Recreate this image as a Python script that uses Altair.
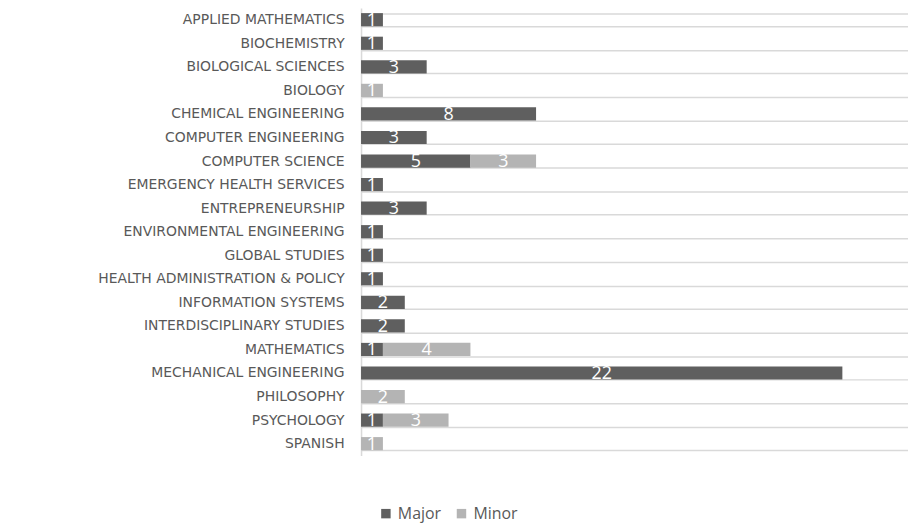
import altair as alt
import pandas as pd

categories = ["APPLIED MATHEMATICS", "BIOCHEMISTRY", "BIOLOGICAL SCIENCES", "BIOLOGY",
              "CHEMICAL ENGINEERING", "COMPUTER ENGINEERING", "COMPUTER SCIENCE",
              "EMERGENCY HEALTH SERVICES", "ENTREPRENEURSHIP", "ENVIRONMENTAL ENGINEERING",
              "GLOBAL STUDIES", "HEALTH ADMINISTRATION & POLICY", "INFORMATION SYSTEMS",
              "INTERDISCIPLINARY STUDIES", "MATHEMATICS", "MECHANICAL ENGINEERING",
              "PHILOSOPHY", "PSYCHOLOGY", "SPANISH"]
major = [1, 1, 3, 0, 8, 3, 5, 1, 3, 1, 1, 1, 2, 2, 1, 22, 0, 1, 0]
minor = [0, 0, 0, 1, 0, 0, 3, 0, 0, 0, 0, 0, 0, 0, 4, 0, 2, 3, 1]
series = ["Major", "Minor"]
colors = ["#5f5f5f", "#b4b4b4"]

rows = []
for c, a, b in zip(categories, major, minor):
    if a:
        rows.append({"cat": c, "type": "Major", "count": a, "ord": 0})
    if b:
        rows.append({"cat": c, "type": "Minor", "count": b, "ord": 1})
df = pd.DataFrame(rows)

base = alt.Chart(df).transform_stack(
    stack="count", groupby=["cat"], as_=["x0", "x1"], sort=[alt.SortField("ord")]
).transform_calculate(mid="(datum.x0 + datum.x1) / 2")

yscale = alt.Scale(paddingInner=0.44, paddingOuter=0.22, range=[-1.5, 448.5])
yenc = alt.Y("cat:N", sort=categories, title=None, scale=yscale,
             axis=alt.Axis(tickBand="extent", ticks=False, grid=True, gridColor="#d9d9d9",
                           gridWidth=1.5, domainColor="#d9d9d9", domainWidth=1.5,
                           labelFont="DejaVu Sans", labelFontSize=14, labelColor="#595959",
                           labelPadding=17, labelLimit=500))
xscale = alt.Scale(domain=[0, 25], nice=False)

bars = base.mark_bar().encode(
    y=yenc,
    x=alt.X("x0:Q", scale=xscale, axis=None),
    x2="x1:Q",
    color=alt.Color("type:N", scale=alt.Scale(domain=series, range=colors),
                    legend=alt.Legend(title=None, orient="none", direction="horizontal",
                                      legendX=17, legendY=499, symbolType="square",
                                      symbolSize=90, symbolStrokeWidth=0,
                                      labelFont="Open Sans", labelFontSize=16,
                                      labelColor="#595959", columnPadding=12,
                                      labelOffset=4)),
)

labels = base.mark_text(color="white", font="Open Sans", fontSize=18, dy=1).encode(
    y=alt.Y("cat:N", sort=categories),
    x=alt.X("mid:Q", scale=xscale),
    text="count:Q",
)

chart = alt.layer(bars, labels).properties(
    width=550, height=450,
    autosize=alt.AutoSizeParams(type="none"),
    padding={"left": 355, "top": 0, "right": 0, "bottom": 70}
).configure_view(stroke=None)

chart.save("out.html", embed_options={"renderer": "svg", "actions": False})
